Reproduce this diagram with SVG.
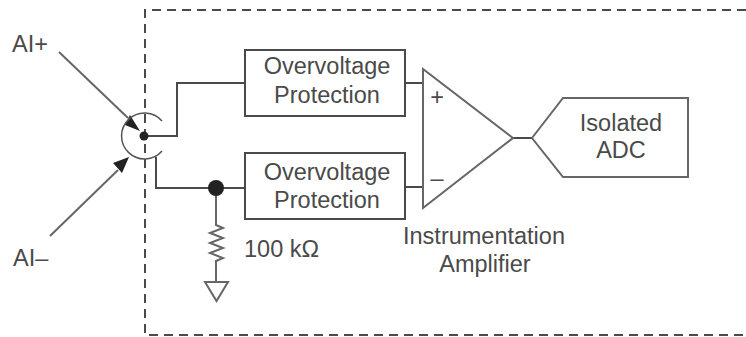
<svg xmlns="http://www.w3.org/2000/svg" width="746" height="337" viewBox="0 0 746 337">
<style>
text{font-family:"Liberation Sans",Arial,sans-serif;font-size:23.5px;fill:#4a4a4a}
.m{text-anchor:middle}
.l{fill:none;stroke:#4a4a4a;stroke-width:2}
.t{fill:none;stroke:#666;stroke-width:2}
.d{fill:#222;stroke:none}
</style>
<rect width="746" height="337" fill="#fff"/>
<path class="l" d="M746 10H145V335H746" stroke-dasharray="9 6"/>
<g id="connectors">
<path class="l" d="M144 136H177V83H245"/>
<path class="l" d="M156 157V188H245"/>
<path class="l" d="M405 83H423M405 187H423"/>
<path class="t" d="M216 188V225l7 3-13 5 13 5-13 5 13 5-13 5 13 5-7 3V282"/>
<path class="l" d="M513 138H532"/>
<path class="t" d="M59 52L128 118"/>
<path class="d" d="M140 131L125 125L130 115Z"/>
<path class="t" d="M50 236L118 170"/>
<path class="d" d="M129 157L113 163L122 173Z"/>
</g>
<g id="connector-symbol">
<path fill="none" stroke="#555" stroke-width="1.5" d="M162 121A23 23 0 1 0 162 151"/>
<circle class="d" cx="144" cy="136" r="4.5"/>
</g>
<g id="node-ai-plus"><text x="12" y="52">AI+</text></g>
<g id="node-ai-minus"><text x="13" y="266">AI–</text></g>
<g id="node-ovp1"><rect class="l" x="245" y="50" width="160" height="66" fill="#fff"/><text class="m" x="327" y="74">Overvoltage</text><text class="m" x="327" y="103">Protection</text></g>
<g id="node-ovp2"><rect class="l" x="245" y="153" width="160" height="66" fill="#fff"/><text class="m" x="327" y="180">Overvoltage</text><text class="m" x="327" y="208">Protection</text></g>
<g id="node-junction"><circle class="d" cx="216" cy="188" r="8"/></g>
<g id="node-ground"><path class="t" d="M205 282H228L216.500 301Z"/></g>
<g id="node-res-label"><text x="244" y="257">100 kΩ</text></g>
<g id="node-amp"><path class="t" d="M423 69V208L513 138Z"/><text class="m" x="437" y="105">+</text><text class="m" x="437" y="186">–</text><text class="m" x="484" y="244">Instrumentation</text><text class="m" x="485" y="272">Amplifier</text></g>
<g id="node-adc"><path class="t" d="M532 138L563 98H688V177H563Z"/><text class="m" x="621" y="131">Isolated</text><text class="m" x="621" y="158">ADC</text></g>
</svg>
